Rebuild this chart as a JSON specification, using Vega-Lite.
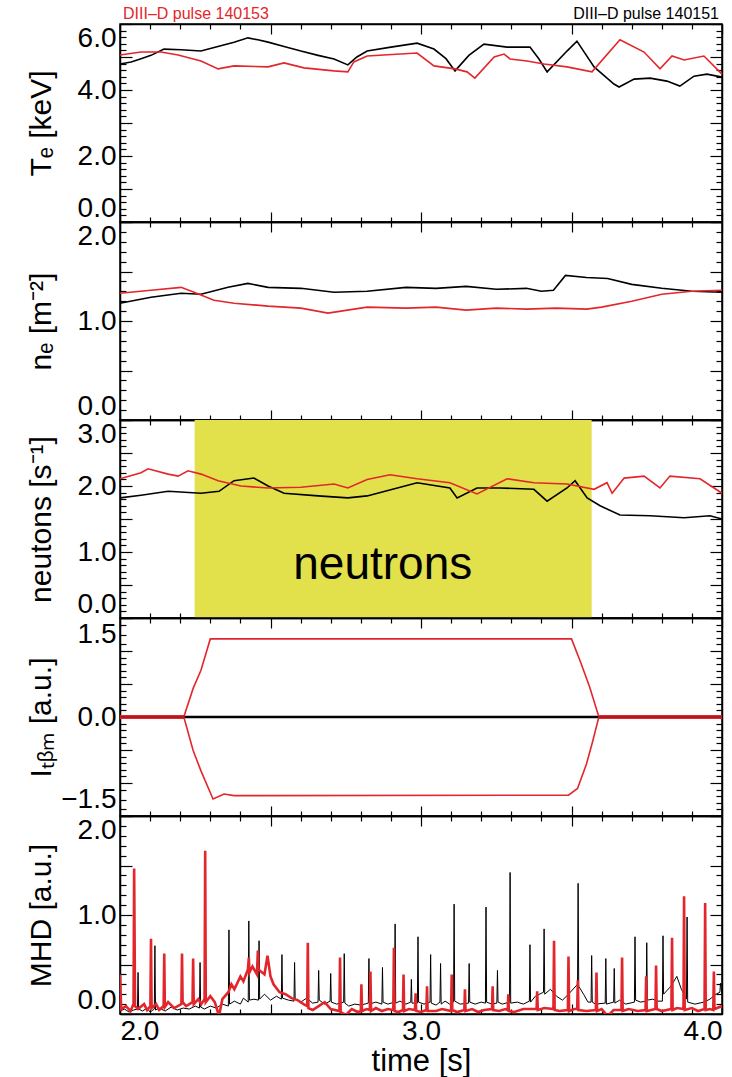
{
  "$schema": "https://vega.github.io/schema/vega-lite/v6.json",
  "padding": {"left": 25, "top": 5, "right": 11, "bottom": 0},
  "background": "white",
  "spacing": 0,
  "bounds": "flush",
  "config": {
    "view": {"stroke": "black", "strokeWidth": 1.5},
    "axis": {"labelFont": "Liberation Sans", "labelFontSize": 28, "labelColor": "black", "titleFont": "Liberation Sans", "titleFontSize": 30, "titleFontWeight": "normal", "titleColor": "black", "domainColor": "black", "domainWidth": 1.5, "tickColor": "black", "tickWidth": 1.2, "grid": false, "labelOverlap": false, "labelBound": false},
    "axisX": {"minExtent": 0},
    "text": {"font": "Liberation Sans"}
  },
  "datasets": {
    "te_b": [{"t":2.000,"v":4.79},{"t":2.037,"v":4.85},{"t":2.070,"v":4.95},{"t":2.103,"v":5.05},{"t":2.146,"v":5.24},{"t":2.203,"v":5.22},{"t":2.269,"v":5.18},{"t":2.319,"v":5.30},{"t":2.379,"v":5.45},{"t":2.425,"v":5.58},{"t":2.458,"v":5.52},{"t":2.492,"v":5.45},{"t":2.545,"v":5.32},{"t":2.601,"v":5.18},{"t":2.658,"v":5.05},{"t":2.711,"v":4.94},{"t":2.757,"v":4.76},{"t":2.787,"v":5.00},{"t":2.821,"v":5.18},{"t":2.900,"v":5.30},{"t":2.987,"v":5.42},{"t":3.043,"v":5.24},{"t":3.083,"v":4.95},{"t":3.113,"v":4.58},{"t":3.159,"v":5.05},{"t":3.209,"v":5.39},{"t":3.286,"v":5.30},{"t":3.362,"v":5.30},{"t":3.392,"v":4.94},{"t":3.419,"v":4.55},{"t":3.485,"v":5.18},{"t":3.518,"v":5.48},{"t":3.575,"v":4.70},{"t":3.641,"v":4.18},{"t":3.658,"v":4.09},{"t":3.708,"v":4.33},{"t":3.761,"v":4.36},{"t":3.817,"v":4.27},{"t":3.860,"v":4.12},{"t":3.907,"v":4.42},{"t":3.950,"v":4.48},{"t":4.000,"v":4.39}],
    "te_r": [{"t":2.000,"v":5.06},{"t":2.070,"v":5.15},{"t":2.136,"v":5.15},{"t":2.193,"v":5.06},{"t":2.269,"v":4.88},{"t":2.326,"v":4.64},{"t":2.379,"v":4.73},{"t":2.492,"v":4.70},{"t":2.545,"v":4.82},{"t":2.611,"v":4.67},{"t":2.711,"v":4.58},{"t":2.757,"v":4.55},{"t":2.777,"v":4.85},{"t":2.821,"v":5.03},{"t":2.987,"v":5.12},{"t":3.043,"v":4.73},{"t":3.113,"v":4.64},{"t":3.153,"v":4.55},{"t":3.179,"v":4.36},{"t":3.243,"v":5.00},{"t":3.276,"v":5.09},{"t":3.296,"v":4.94},{"t":3.352,"v":4.88},{"t":3.409,"v":4.79},{"t":3.485,"v":4.70},{"t":3.568,"v":4.55},{"t":3.661,"v":5.52},{"t":3.741,"v":5.15},{"t":3.794,"v":4.64},{"t":3.834,"v":5.03},{"t":3.874,"v":4.91},{"t":3.940,"v":5.03},{"t":4.000,"v":4.48}],
    "ne_b": [{"t":2.000,"v":1.18},{"t":2.103,"v":1.24},{"t":2.203,"v":1.28},{"t":2.269,"v":1.27},{"t":2.359,"v":1.34},{"t":2.425,"v":1.38},{"t":2.492,"v":1.34},{"t":2.601,"v":1.33},{"t":2.711,"v":1.29},{"t":2.821,"v":1.30},{"t":2.950,"v":1.34},{"t":3.050,"v":1.33},{"t":3.150,"v":1.35},{"t":3.250,"v":1.32},{"t":3.350,"v":1.33},{"t":3.400,"v":1.30},{"t":3.440,"v":1.31},{"t":3.480,"v":1.46},{"t":3.550,"v":1.44},{"t":3.620,"v":1.43},{"t":3.700,"v":1.37},{"t":3.800,"v":1.33},{"t":3.900,"v":1.30},{"t":4.000,"v":1.29}],
    "ne_r": [{"t":2.000,"v":1.28},{"t":2.103,"v":1.31},{"t":2.203,"v":1.34},{"t":2.246,"v":1.29},{"t":2.312,"v":1.21},{"t":2.379,"v":1.18},{"t":2.492,"v":1.15},{"t":2.601,"v":1.13},{"t":2.691,"v":1.08},{"t":2.821,"v":1.14},{"t":2.950,"v":1.13},{"t":3.050,"v":1.14},{"t":3.150,"v":1.11},{"t":3.250,"v":1.13},{"t":3.350,"v":1.12},{"t":3.450,"v":1.13},{"t":3.550,"v":1.12},{"t":3.600,"v":1.14},{"t":3.700,"v":1.20},{"t":3.800,"v":1.27},{"t":3.900,"v":1.30},{"t":4.000,"v":1.31}],
    "nu_b": [{"t":2.000,"v":1.82},{"t":2.070,"v":1.86},{"t":2.160,"v":1.92},{"t":2.269,"v":1.89},{"t":2.329,"v":1.92},{"t":2.379,"v":2.08},{"t":2.445,"v":2.12},{"t":2.492,"v":2.00},{"t":2.545,"v":1.89},{"t":2.658,"v":1.85},{"t":2.757,"v":1.82},{"t":2.821,"v":1.85},{"t":2.987,"v":2.05},{"t":3.096,"v":1.97},{"t":3.120,"v":1.82},{"t":3.186,"v":1.97},{"t":3.262,"v":1.97},{"t":3.375,"v":1.95},{"t":3.419,"v":1.77},{"t":3.485,"v":1.97},{"t":3.512,"v":2.08},{"t":3.552,"v":1.82},{"t":3.595,"v":1.70},{"t":3.661,"v":1.56},{"t":3.761,"v":1.55},{"t":3.874,"v":1.52},{"t":3.960,"v":1.55},{"t":4.000,"v":1.50}],
    "nu_r": [{"t":2.000,"v":2.11},{"t":2.070,"v":2.20},{"t":2.093,"v":2.26},{"t":2.160,"v":2.18},{"t":2.193,"v":2.15},{"t":2.226,"v":2.23},{"t":2.269,"v":2.18},{"t":2.326,"v":2.08},{"t":2.402,"v":2.00},{"t":2.492,"v":1.97},{"t":2.601,"v":1.98},{"t":2.711,"v":2.03},{"t":2.757,"v":1.97},{"t":2.821,"v":2.10},{"t":2.897,"v":2.17},{"t":2.987,"v":2.11},{"t":3.096,"v":2.05},{"t":3.186,"v":1.88},{"t":3.286,"v":2.11},{"t":3.375,"v":2.05},{"t":3.485,"v":2.03},{"t":3.575,"v":1.95},{"t":3.618,"v":2.05},{"t":3.635,"v":1.89},{"t":3.675,"v":2.12},{"t":3.741,"v":2.15},{"t":3.794,"v":1.97},{"t":3.827,"v":2.15},{"t":3.927,"v":2.11},{"t":4.000,"v":1.89}],
    "it_b": [{"t":2.0,"v":0.0},{"t":4.0,"v":0.0}],
    "it_r": [{"k":"u","t":2.000,"v":0.02},{"k":"u","t":2.213,"v":0.02},{"k":"u","t":2.243,"v":0.52},{"k":"u","t":2.269,"v":0.85},{"k":"u","t":2.300,"v":1.42},{"k":"u","t":3.500,"v":1.42},{"k":"u","t":3.530,"v":1.00},{"k":"u","t":3.560,"v":0.55},{"k":"u","t":3.590,"v":0.02},{"k":"u","t":4.000,"v":0.02},{"k":"l","t":2.000,"v":-0.02},{"k":"l","t":2.213,"v":-0.02},{"k":"l","t":2.243,"v":-0.61},{"k":"l","t":2.269,"v":-0.98},{"k":"l","t":2.309,"v":-1.49},{"k":"l","t":2.346,"v":-1.40},{"k":"l","t":2.379,"v":-1.43},{"k":"l","t":3.490,"v":-1.42},{"k":"l","t":3.520,"v":-1.30},{"k":"l","t":3.550,"v":-0.85},{"k":"l","t":3.570,"v":-0.45},{"k":"l","t":3.590,"v":-0.02},{"k":"l","t":4.000,"v":-0.02}],
    "mhd_b": [{"t":2.000,"v":0.03},{"t":2.015,"v":0.05},{"t":2.030,"v":0.02},{"t":2.045,"v":0.04},{"t":2.058,"v":0.05},{"t":2.060,"v":0.42},{"t":2.062,"v":0.05},{"t":2.075,"v":0.03},{"t":2.090,"v":0.06},{"t":2.100,"v":0.02},{"t":2.114,"v":0.05},{"t":2.116,"v":0.69},{"t":2.118,"v":0.04},{"t":2.130,"v":0.06},{"t":2.150,"v":0.03},{"t":2.170,"v":0.07},{"t":2.190,"v":0.04},{"t":2.210,"v":0.06},{"t":2.230,"v":0.05},{"t":2.250,"v":0.08},{"t":2.264,"v":0.06},{"t":2.266,"v":0.52},{"t":2.268,"v":0.07},{"t":2.280,"v":0.05},{"t":2.300,"v":0.08},{"t":2.320,"v":0.06},{"t":2.340,"v":0.10},{"t":2.360,"v":0.08},{"t":2.362,"v":0.85},{"t":2.364,"v":0.10},{"t":2.380,"v":0.13},{"t":2.400,"v":0.10},{"t":2.410,"v":0.16},{"t":2.426,"v":0.12},{"t":2.428,"v":0.94},{"t":2.430,"v":0.14},{"t":2.445,"v":0.15},{"t":2.460,"v":0.14},{"t":2.462,"v":0.74},{"t":2.464,"v":0.15},{"t":2.480,"v":0.20},{"t":2.500,"v":0.14},{"t":2.520,"v":0.18},{"t":2.536,"v":0.15},{"t":2.538,"v":0.60},{"t":2.540,"v":0.16},{"t":2.560,"v":0.14},{"t":2.578,"v":0.13},{"t":2.580,"v":0.52},{"t":2.582,"v":0.15},{"t":2.600,"v":0.12},{"t":2.620,"v":0.16},{"t":2.640,"v":0.11},{"t":2.658,"v":0.12},{"t":2.660,"v":0.44},{"t":2.662,"v":0.14},{"t":2.680,"v":0.10},{"t":2.698,"v":0.13},{"t":2.700,"v":0.41},{"t":2.702,"v":0.12},{"t":2.720,"v":0.10},{"t":2.743,"v":0.12},{"t":2.745,"v":0.61},{"t":2.747,"v":0.11},{"t":2.760,"v":0.08},{"t":2.780,"v":0.10},{"t":2.800,"v":0.09},{"t":2.825,"v":0.11},{"t":2.827,"v":0.56},{"t":2.829,"v":0.10},{"t":2.850,"v":0.12},{"t":2.870,"v":0.10},{"t":2.872,"v":0.47},{"t":2.874,"v":0.12},{"t":2.890,"v":0.10},{"t":2.912,"v":0.12},{"t":2.914,"v":0.91},{"t":2.916,"v":0.11},{"t":2.930,"v":0.13},{"t":2.950,"v":0.10},{"t":2.966,"v":0.12},{"t":2.968,"v":0.35},{"t":2.970,"v":0.11},{"t":2.988,"v":0.11},{"t":2.990,"v":0.78},{"t":2.992,"v":0.12},{"t":3.010,"v":0.10},{"t":3.030,"v":0.12},{"t":3.032,"v":0.60},{"t":3.034,"v":0.11},{"t":3.050,"v":0.09},{"t":3.063,"v":0.12},{"t":3.065,"v":0.51},{"t":3.067,"v":0.10},{"t":3.080,"v":0.13},{"t":3.095,"v":0.10},{"t":3.108,"v":0.12},{"t":3.110,"v":1.11},{"t":3.112,"v":0.13},{"t":3.130,"v":0.10},{"t":3.158,"v":0.11},{"t":3.160,"v":0.51},{"t":3.162,"v":0.12},{"t":3.180,"v":0.10},{"t":3.200,"v":0.12},{"t":3.214,"v":0.11},{"t":3.216,"v":1.08},{"t":3.218,"v":0.12},{"t":3.235,"v":0.10},{"t":3.252,"v":0.11},{"t":3.254,"v":0.44},{"t":3.256,"v":0.12},{"t":3.270,"v":0.10},{"t":3.294,"v":0.12},{"t":3.296,"v":1.43},{"t":3.298,"v":0.11},{"t":3.320,"v":0.12},{"t":3.340,"v":0.10},{"t":3.360,"v":0.13},{"t":3.362,"v":0.70},{"t":3.364,"v":0.12},{"t":3.380,"v":0.18},{"t":3.407,"v":0.22},{"t":3.409,"v":0.86},{"t":3.411,"v":0.20},{"t":3.430,"v":0.25},{"t":3.450,"v":0.18},{"t":3.470,"v":0.14},{"t":3.490,"v":0.20},{"t":3.520,"v":0.30},{"t":3.522,"v":1.32},{"t":3.524,"v":0.28},{"t":3.540,"v":0.20},{"t":3.555,"v":0.12},{"t":3.565,"v":0.12},{"t":3.567,"v":0.59},{"t":3.569,"v":0.12},{"t":3.580,"v":0.10},{"t":3.612,"v":0.11},{"t":3.614,"v":0.56},{"t":3.616,"v":0.10},{"t":3.640,"v":0.12},{"t":3.642,"v":0.46},{"t":3.644,"v":0.11},{"t":3.660,"v":0.14},{"t":3.680,"v":0.10},{"t":3.709,"v":0.12},{"t":3.711,"v":0.78},{"t":3.713,"v":0.14},{"t":3.730,"v":0.12},{"t":3.748,"v":0.13},{"t":3.750,"v":0.72},{"t":3.752,"v":0.14},{"t":3.770,"v":0.15},{"t":3.785,"v":0.13},{"t":3.802,"v":0.13},{"t":3.804,"v":0.79},{"t":3.806,"v":0.20},{"t":3.830,"v":0.28},{"t":3.850,"v":0.38},{"t":3.865,"v":0.25},{"t":3.882,"v":0.15},{"t":3.884,"v":0.98},{"t":3.886,"v":0.12},{"t":3.910,"v":0.10},{"t":3.940,"v":0.12},{"t":3.960,"v":0.15},{"t":3.980,"v":0.20},{"t":3.993,"v":0.22},{"t":3.995,"v":0.31},{"t":4.000,"v":0.20}],
    "mhd_r": [{"t":2.000,"v":0.40},{"t":2.004,"v":0.05},{"t":2.020,"v":0.08},{"t":2.035,"v":0.03},{"t":2.045,"v":0.10},{"t":2.047,"v":1.47},{"t":2.050,"v":0.08},{"t":2.060,"v":0.05},{"t":2.080,"v":0.10},{"t":2.090,"v":0.04},{"t":2.101,"v":0.08},{"t":2.103,"v":0.76},{"t":2.105,"v":0.06},{"t":2.120,"v":0.10},{"t":2.130,"v":0.04},{"t":2.145,"v":0.08},{"t":2.147,"v":0.61},{"t":2.149,"v":0.07},{"t":2.160,"v":0.12},{"t":2.180,"v":0.06},{"t":2.204,"v":0.10},{"t":2.206,"v":0.61},{"t":2.208,"v":0.12},{"t":2.220,"v":0.08},{"t":2.241,"v":0.12},{"t":2.243,"v":0.56},{"t":2.245,"v":0.10},{"t":2.260,"v":0.15},{"t":2.270,"v":0.10},{"t":2.281,"v":0.15},{"t":2.283,"v":1.65},{"t":2.285,"v":0.12},{"t":2.300,"v":0.18},{"t":2.315,"v":0.12},{"t":2.329,"v":-0.02},{"t":2.340,"v":0.15},{"t":2.360,"v":0.22},{"t":2.370,"v":0.30},{"t":2.380,"v":0.25},{"t":2.400,"v":0.38},{"t":2.410,"v":0.33},{"t":2.425,"v":0.45},{"t":2.428,"v":0.57},{"t":2.430,"v":0.42},{"t":2.440,"v":0.48},{"t":2.455,"v":0.40},{"t":2.458,"v":0.64},{"t":2.460,"v":0.45},{"t":2.480,"v":0.40},{"t":2.490,"v":0.59},{"t":2.500,"v":0.38},{"t":2.510,"v":0.30},{"t":2.530,"v":0.22},{"t":2.550,"v":0.20},{"t":2.570,"v":0.16},{"t":2.590,"v":0.14},{"t":2.610,"v":0.10},{"t":2.622,"v":0.08},{"t":2.624,"v":0.72},{"t":2.626,"v":0.06},{"t":2.640,"v":0.04},{"t":2.660,"v":0.08},{"t":2.680,"v":0.12},{"t":2.700,"v":0.05},{"t":2.729,"v":0.03},{"t":2.731,"v":0.57},{"t":2.733,"v":0.02},{"t":2.750,"v":-0.01},{"t":2.770,"v":0.05},{"t":2.790,"v":0.02},{"t":2.800,"v":0.03},{"t":2.802,"v":0.30},{"t":2.804,"v":0.03},{"t":2.820,"v":0.05},{"t":2.830,"v":0.04},{"t":2.832,"v":0.43},{"t":2.834,"v":0.03},{"t":2.850,"v":0.06},{"t":2.870,"v":0.03},{"t":2.890,"v":0.05},{"t":2.908,"v":0.04},{"t":2.910,"v":0.67},{"t":2.912,"v":0.03},{"t":2.925,"v":0.02},{"t":2.940,"v":0.04},{"t":2.942,"v":0.40},{"t":2.944,"v":0.03},{"t":2.960,"v":0.05},{"t":2.980,"v":0.04},{"t":2.982,"v":0.21},{"t":2.984,"v":0.03},{"t":3.000,"v":0.02},{"t":3.018,"v":0.04},{"t":3.020,"v":0.28},{"t":3.022,"v":0.03},{"t":3.050,"v":0.03},{"t":3.070,"v":0.05},{"t":3.100,"v":0.03},{"t":3.102,"v":0.40},{"t":3.104,"v":0.04},{"t":3.120,"v":0.02},{"t":3.144,"v":0.04},{"t":3.146,"v":0.25},{"t":3.148,"v":0.03},{"t":3.170,"v":0.05},{"t":3.190,"v":0.02},{"t":3.210,"v":0.04},{"t":3.236,"v":0.05},{"t":3.238,"v":0.28},{"t":3.240,"v":0.04},{"t":3.260,"v":0.03},{"t":3.280,"v":0.05},{"t":3.288,"v":0.04},{"t":3.290,"v":0.20},{"t":3.292,"v":0.03},{"t":3.310,"v":0.02},{"t":3.340,"v":0.05},{"t":3.384,"v":0.05},{"t":3.386,"v":0.23},{"t":3.388,"v":0.04},{"t":3.410,"v":0.06},{"t":3.440,"v":0.05},{"t":3.442,"v":0.74},{"t":3.444,"v":0.04},{"t":3.460,"v":0.03},{"t":3.488,"v":0.04},{"t":3.490,"v":0.58},{"t":3.492,"v":0.03},{"t":3.510,"v":0.05},{"t":3.519,"v":0.05},{"t":3.521,"v":0.34},{"t":3.523,"v":0.04},{"t":3.550,"v":0.03},{"t":3.581,"v":0.04},{"t":3.583,"v":0.42},{"t":3.585,"v":0.03},{"t":3.600,"v":0.05},{"t":3.620,"v":-0.02},{"t":3.640,"v":0.04},{"t":3.666,"v":0.04},{"t":3.668,"v":0.57},{"t":3.670,"v":0.03},{"t":3.690,"v":0.05},{"t":3.720,"v":0.03},{"t":3.746,"v":0.04},{"t":3.748,"v":0.38},{"t":3.750,"v":0.03},{"t":3.779,"v":0.05},{"t":3.781,"v":0.49},{"t":3.783,"v":0.05},{"t":3.800,"v":0.03},{"t":3.832,"v":0.05},{"t":3.834,"v":0.77},{"t":3.836,"v":0.04},{"t":3.850,"v":0.06},{"t":3.872,"v":0.05},{"t":3.874,"v":1.19},{"t":3.876,"v":0.04},{"t":3.900,"v":0.06},{"t":3.920,"v":0.03},{"t":3.942,"v":0.05},{"t":3.944,"v":1.12},{"t":3.946,"v":0.04},{"t":3.960,"v":0.05},{"t":3.971,"v":0.04},{"t":3.973,"v":0.43},{"t":3.975,"v":0.05},{"t":4.000,"v":0.08}],
    "labels": [{"name":"DIII–D pulse 140153","t":2.0,"v":6.0,"side":"left"},{"name":"DIII–D pulse 140151","t":4.0,"v":6.0,"side":"right"}],
    "box": [{"t0":2.248,"t1":3.567,"t":2.873,"v":0.59,"name":"neutrons"}]
  },
  "vconcat": [
    {
      "width": 602, "height": 198,
      "resolve": {"axis": {"x": "independent", "y": "independent"}},
      "layer": [
        {"data": {"name": "te_b"}, "mark": {"type": "line", "color": "black", "strokeWidth": 1.6},
         "encoding": {
           "x": {"field": "t", "type": "quantitative", "scale": {"domain": [2, 4], "nice": false, "zero": false}, "axis": {"orient": "bottom", "values": [2,2.1,2.2,2.3,2.4,2.5,2.6,2.7,2.8,2.9,3,3.1,3.2,3.3,3.4,3.5,3.6,3.7,3.8,3.9,4], "tickSize": {"condition": {"test": "abs(datum.value*2-round(datum.value*2))<0.01", "value": -10}, "value": -5}, "labels": false, "title": null, "maxExtent": 0}},
           "y": {"field": "v", "type": "quantitative", "scale": {"domain": [0, 6], "nice": false, "zero": false}, "axis": {"orient": "left", "values": [0,0.2,0.4,0.6,0.8,1,1.2,1.4,1.6,1.8,2,2.2,2.4,2.6,2.8,3,3.2,3.4,3.6,3.8,4,4.2,4.4,4.6,4.8,5,5.2,5.4,5.6,5.8,6], "tickSize": {"condition": {"test": "abs(datum.value-round(datum.value))<0.01", "value": -12}, "value": -6}, "labelExpr": "abs(datum.value/2-round(datum.value/2))<0.01 ? format(datum.value,'.1f') : ''", "labelPadding": 16, "labelFlush": true, "title": "Tₑ [keV]", "titlePadding": 6, "minExtent": 58, "maxExtent": 58}}
         }},
        {"data": {"name": "te_r"}, "mark": {"type": "line", "color": "#e3262b", "strokeWidth": 1.6},
         "encoding": {
           "x": {"field": "t", "type": "quantitative", "axis": {"orient": "top", "values": [2,2.1,2.2,2.3,2.4,2.5,2.6,2.7,2.8,2.9,3,3.1,3.2,3.3,3.4,3.5,3.6,3.7,3.8,3.9,4], "tickSize": {"condition": {"test": "abs(datum.value*2-round(datum.value*2))<0.01", "value": -10}, "value": -5}, "labels": false, "title": null, "maxExtent": 0}},
           "y": {"field": "v", "type": "quantitative", "axis": {"orient": "right", "values": [0,0.2,0.4,0.6,0.8,1,1.2,1.4,1.6,1.8,2,2.2,2.4,2.6,2.8,3,3.2,3.4,3.6,3.8,4,4.2,4.4,4.6,4.8,5,5.2,5.4,5.6,5.8,6], "tickSize": {"condition": {"test": "abs(datum.value-round(datum.value))<0.01", "value": -12}, "value": -6}, "labels": false, "title": null, "minExtent": 0, "maxExtent": 0}}
         }},
        {"data": {"name": "labels"}, "transform": [{"filter": "datum.side == 'left'"}],
         "mark": {"type": "text", "fontSize": 16, "baseline": "alphabetic", "align": "left", "dy": -5, "dx": 3, "color": "#e3262b"},
         "encoding": {
           "x": {"field": "t", "type": "quantitative", "axis": null},
           "y": {"field": "v", "type": "quantitative", "axis": null},
           "text": {"field": "name"}
         }},
        {"data": {"name": "labels"}, "transform": [{"filter": "datum.side == 'right'"}],
         "mark": {"type": "text", "fontSize": 16, "baseline": "alphabetic", "align": "right", "dy": -5, "dx": -3, "color": "black"},
         "encoding": {
           "x": {"field": "t", "type": "quantitative", "axis": null},
           "y": {"field": "v", "type": "quantitative", "axis": null},
           "text": {"field": "name"}
         }}
      ]
    },
    {
      "width": 602, "height": 198,
      "resolve": {"axis": {"x": "independent", "y": "independent"}},
      "layer": [
        {"data": {"name": "ne_b"}, "mark": {"type": "line", "color": "black", "strokeWidth": 1.6},
         "encoding": {
           "x": {"field": "t", "type": "quantitative", "scale": {"domain": [2, 4], "nice": false, "zero": false}, "axis": {"orient": "bottom", "values": [2,2.1,2.2,2.3,2.4,2.5,2.6,2.7,2.8,2.9,3,3.1,3.2,3.3,3.4,3.5,3.6,3.7,3.8,3.9,4], "tickSize": {"condition": {"test": "abs(datum.value*2-round(datum.value*2))<0.01", "value": -10}, "value": -5}, "labels": false, "title": null, "maxExtent": 0}},
           "y": {"field": "v", "type": "quantitative", "scale": {"domain": [0, 2], "nice": false, "zero": false}, "axis": {"orient": "left", "values": [0,0.1,0.2,0.3,0.4,0.5,0.6,0.7,0.8,0.9,1,1.1,1.2,1.3,1.4,1.5,1.6,1.7,1.8,1.9,2], "tickSize": {"condition": {"test": "abs(datum.value*2-round(datum.value*2))<0.01", "value": -12}, "value": -6}, "labelExpr": "abs(datum.value-round(datum.value))<0.01 ? format(datum.value,'.1f') : ''", "labelPadding": 16, "labelFlush": true, "title": "nₑ [m⁻²]", "titlePadding": 6, "minExtent": 58, "maxExtent": 58}}
         }},
        {"data": {"name": "ne_r"}, "mark": {"type": "line", "color": "#e3262b", "strokeWidth": 1.6},
         "encoding": {
           "x": {"field": "t", "type": "quantitative", "axis": {"orient": "top", "values": [2,2.1,2.2,2.3,2.4,2.5,2.6,2.7,2.8,2.9,3,3.1,3.2,3.3,3.4,3.5,3.6,3.7,3.8,3.9,4], "tickSize": {"condition": {"test": "abs(datum.value*2-round(datum.value*2))<0.01", "value": -10}, "value": -5}, "labels": false, "title": null, "maxExtent": 0}},
           "y": {"field": "v", "type": "quantitative", "axis": {"orient": "right", "values": [0,0.1,0.2,0.3,0.4,0.5,0.6,0.7,0.8,0.9,1,1.1,1.2,1.3,1.4,1.5,1.6,1.7,1.8,1.9,2], "tickSize": {"condition": {"test": "abs(datum.value*2-round(datum.value*2))<0.01", "value": -12}, "value": -6}, "labels": false, "title": null, "minExtent": 0, "maxExtent": 0}}
         }}
      ]
    },
    {
      "width": 602, "height": 198,
      "resolve": {"axis": {"x": "independent", "y": "independent"}},
      "layer": [
        {"data": {"name": "box"}, "mark": {"type": "rect", "color": "#e2e04b", "opacity": 1},
         "encoding": {
           "x": {"field": "t0", "type": "quantitative", "scale": {"domain": [2, 4], "nice": false, "zero": false}, "axis": {"orient": "bottom", "values": [2,2.1,2.2,2.3,2.4,2.5,2.6,2.7,2.8,2.9,3,3.1,3.2,3.3,3.4,3.5,3.6,3.7,3.8,3.9,4], "tickSize": {"condition": {"test": "abs(datum.value*2-round(datum.value*2))<0.01", "value": -10}, "value": -5}, "labels": false, "title": null, "maxExtent": 0}},
           "x2": {"field": "t1"}
         }},
        {"data": {"name": "nu_b"}, "mark": {"type": "line", "color": "black", "strokeWidth": 1.6},
         "encoding": {
           "x": {"field": "t", "type": "quantitative", "axis": {"orient": "top", "values": [2,2.1,2.2,2.3,2.4,2.5,2.6,2.7,2.8,2.9,3,3.1,3.2,3.3,3.4,3.5,3.6,3.7,3.8,3.9,4], "tickSize": {"condition": {"test": "abs(datum.value*2-round(datum.value*2))<0.01", "value": -10}, "value": -5}, "labels": false, "title": null, "maxExtent": 0}},
           "y": {"field": "v", "type": "quantitative", "scale": {"domain": [0, 3], "nice": false, "zero": false}, "axis": {"orient": "left", "values": [0,0.1,0.2,0.3,0.4,0.5,0.6,0.7,0.8,0.9,1,1.1,1.2,1.3,1.4,1.5,1.6,1.7,1.8,1.9,2,2.1,2.2,2.3,2.4,2.5,2.6,2.7,2.8,2.9,3], "tickSize": {"condition": {"test": "abs(datum.value*2-round(datum.value*2))<0.01", "value": -12}, "value": -6}, "labelExpr": "abs(datum.value-round(datum.value))<0.01 ? format(datum.value,'.1f') : ''", "labelPadding": 16, "labelFlush": true, "title": "neutons [s⁻¹]", "titlePadding": 6, "minExtent": 58, "maxExtent": 58}}
         }},
        {"data": {"name": "nu_r"}, "mark": {"type": "line", "color": "#e3262b", "strokeWidth": 1.6},
         "encoding": {
           "x": {"field": "t", "type": "quantitative", "axis": null},
           "y": {"field": "v", "type": "quantitative", "axis": {"orient": "right", "values": [0,0.1,0.2,0.3,0.4,0.5,0.6,0.7,0.8,0.9,1,1.1,1.2,1.3,1.4,1.5,1.6,1.7,1.8,1.9,2,2.1,2.2,2.3,2.4,2.5,2.6,2.7,2.8,2.9,3], "tickSize": {"condition": {"test": "abs(datum.value*2-round(datum.value*2))<0.01", "value": -12}, "value": -6}, "labels": false, "title": null, "minExtent": 0, "maxExtent": 0}}
         }},
        {"data": {"name": "box"}, "mark": {"type": "text", "fontSize": 46, "baseline": "alphabetic", "align": "center", "color": "black"},
         "encoding": {
           "x": {"field": "t", "type": "quantitative", "axis": null},
           "y": {"field": "v", "type": "quantitative", "axis": null},
           "text": {"field": "name"}
         }}
      ]
    },
    {
      "width": 602, "height": 198,
      "resolve": {"axis": {"x": "independent", "y": "independent"}},
      "layer": [
        {"data": {"name": "it_b"}, "mark": {"type": "line", "color": "black", "strokeWidth": 2.6},
         "encoding": {
           "x": {"field": "t", "type": "quantitative", "scale": {"domain": [2, 4], "nice": false, "zero": false}, "axis": {"orient": "bottom", "values": [2,2.1,2.2,2.3,2.4,2.5,2.6,2.7,2.8,2.9,3,3.1,3.2,3.3,3.4,3.5,3.6,3.7,3.8,3.9,4], "tickSize": {"condition": {"test": "abs(datum.value*2-round(datum.value*2))<0.01", "value": -10}, "value": -5}, "labels": false, "title": null, "maxExtent": 0}},
           "y": {"field": "v", "type": "quantitative", "scale": {"domain": [-1.8, 1.8], "nice": false, "zero": false}, "axis": {"orient": "left", "values": [-1.8,-1.68,-1.5,-1.32,-1.2,-1.08,-0.96,-0.84,-0.72,-0.6,-0.48,-0.36,-0.24,-0.12,0,0.12,0.24,0.36,0.48,0.6,0.72,0.84,0.96,1.08,1.2,1.32,1.5,1.68,1.8], "tickSize": {"condition": {"test": "abs(datum.value/0.6-round(datum.value/0.6))<0.01", "value": -12}, "value": -6}, "labelExpr": "(abs(datum.value)<0.01 || abs(abs(datum.value)-1.5)<0.01) ? format(datum.value,'.1f') : ''", "labelPadding": {"condition": {"test": "abs(datum.value)<0.01", "value": 16}, "value": 10}, "labelFlush": true, "title": "Iₜᵦₘ [a.u.]", "titlePadding": 6, "minExtent": 58, "maxExtent": 58}}
         }},
        {"data": {"name": "it_r"}, "mark": {"type": "line", "color": "#e3262b", "strokeWidth": 1.6},
         "encoding": {
           "x": {"field": "t", "type": "quantitative", "axis": {"orient": "top", "values": [2,2.1,2.2,2.3,2.4,2.5,2.6,2.7,2.8,2.9,3,3.1,3.2,3.3,3.4,3.5,3.6,3.7,3.8,3.9,4], "tickSize": {"condition": {"test": "abs(datum.value*2-round(datum.value*2))<0.01", "value": -10}, "value": -5}, "labels": false, "title": null, "maxExtent": 0}},
           "y": {"field": "v", "type": "quantitative", "axis": {"orient": "right", "values": [-1.8,-1.68,-1.56,-1.44,-1.32,-1.2,-1.08,-0.96,-0.84,-0.72,-0.6,-0.48,-0.36,-0.24,-0.12,0,0.12,0.24,0.36,0.48,0.6,0.72,0.84,0.96,1.08,1.2,1.32,1.44,1.56,1.68,1.8], "tickSize": {"condition": {"test": "abs(datum.value/0.6-round(datum.value/0.6))<0.01", "value": -12}, "value": -6}, "labels": false, "title": null, "minExtent": 0, "maxExtent": 0}},
           "detail": {"field": "k"}
         }}
      ]
    },
    {
      "width": 602, "height": 198,
      "resolve": {"axis": {"x": "independent", "y": "independent"}},
      "layer": [
        {"data": {"name": "mhd_b"}, "mark": {"type": "line", "color": "black", "strokeWidth": 1, "clip": true},
         "encoding": {
           "x": {"field": "t", "type": "quantitative", "scale": {"domain": [2, 4], "nice": false, "zero": false}, "axis": {"orient": "bottom", "values": [2,2.1,2.2,2.3,2.4,2.5,2.6,2.7,2.8,2.9,3,3.1,3.2,3.3,3.4,3.5,3.6,3.7,3.8,3.9,4], "tickSize": {"condition": {"test": "abs(datum.value*2-round(datum.value*2))<0.01", "value": -10}, "value": -5}, "labelExpr": "abs(datum.value-round(datum.value))<0.01 ? format(datum.value,'.1f') : ''", "labelPadding": 13, "labelFlush": true, "title": "time [s]", "titleFontSize": 31, "titlePadding": -4}},
           "y": {"field": "v", "type": "quantitative", "scale": {"domain": [0, 2], "nice": false, "zero": false}, "axis": {"orient": "left", "values": [0,0.1,0.2,0.3,0.4,0.5,0.6,0.7,0.8,0.9,1,1.1,1.2,1.3,1.4,1.5,1.6,1.7,1.8,1.9,2], "tickSize": {"condition": {"test": "abs(datum.value*2-round(datum.value*2))<0.01", "value": -12}, "value": -6}, "labelExpr": "abs(datum.value-round(datum.value))<0.01 ? format(datum.value,'.1f') : ''", "labelPadding": 16, "labelFlush": true, "title": "MHD [a.u.]", "titlePadding": 6, "minExtent": 58, "maxExtent": 58}}
         }},
        {"data": {"name": "mhd_r"}, "mark": {"type": "line", "color": "#e3262b", "strokeWidth": 2.6, "clip": true},
         "encoding": {
           "x": {"field": "t", "type": "quantitative", "axis": {"orient": "top", "values": [2,2.1,2.2,2.3,2.4,2.5,2.6,2.7,2.8,2.9,3,3.1,3.2,3.3,3.4,3.5,3.6,3.7,3.8,3.9,4], "tickSize": {"condition": {"test": "abs(datum.value*2-round(datum.value*2))<0.01", "value": -10}, "value": -5}, "labels": false, "title": null, "maxExtent": 0}},
           "y": {"field": "v", "type": "quantitative", "axis": {"orient": "right", "values": [0,0.1,0.2,0.3,0.4,0.5,0.6,0.7,0.8,0.9,1,1.1,1.2,1.3,1.4,1.5,1.6,1.7,1.8,1.9,2], "tickSize": {"condition": {"test": "abs(datum.value*2-round(datum.value*2))<0.01", "value": -12}, "value": -6}, "labels": false, "title": null, "minExtent": 0, "maxExtent": 0}}
         }}
      ]
    }
  ]
}
